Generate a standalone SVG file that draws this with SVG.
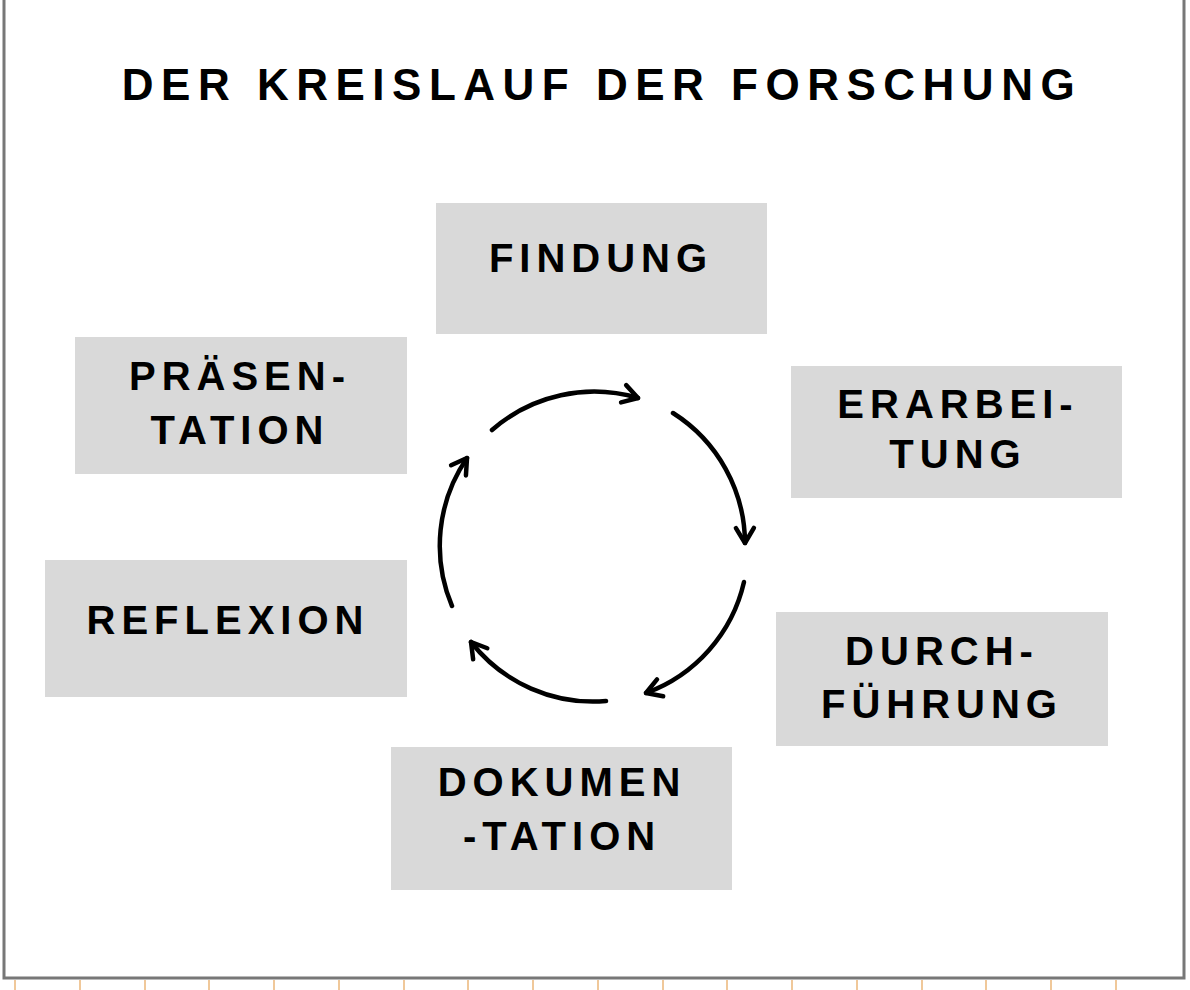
<svg xmlns="http://www.w3.org/2000/svg" width="1190" height="990" viewBox="0 0 1190 990">
<style>
.box{fill:#d9d9d9}
.t{font-family:"Liberation Sans",Arial,sans-serif;font-weight:bold;font-size:40px;fill:#000;letter-spacing:6px;text-anchor:middle}
.c{fill:none;stroke:#000;stroke-width:4.5;stroke-linecap:round}
.tick{stroke:#f0c89a;stroke-width:2}
</style>
<defs>
<marker id="a" viewBox="-20 -20 40 40" refX="0" refY="0" markerWidth="40" markerHeight="40" orient="auto" markerUnits="userSpaceOnUse">
<path d="M-15,-9 L0,0 L-15,9" fill="none" stroke="#000" stroke-width="4.5" stroke-linecap="round" stroke-linejoin="round"/>
</marker>
</defs>
<rect width="1190" height="990" fill="#fff"/>
<g id="frame">
<path d="M4,0 V978 H1184 V0" fill="none" stroke="#777" stroke-width="3"/>
<g class="tick">
<line x1="15" y1="980" x2="15" y2="990"/><line x1="80" y1="980" x2="80" y2="990"/><line x1="145" y1="980" x2="145" y2="990"/><line x1="209" y1="980" x2="209" y2="990"/><line x1="274" y1="980" x2="274" y2="990"/><line x1="339" y1="980" x2="339" y2="990"/><line x1="404" y1="980" x2="404" y2="990"/><line x1="468" y1="980" x2="468" y2="990"/><line x1="533" y1="980" x2="533" y2="990"/><line x1="598" y1="980" x2="598" y2="990"/><line x1="663" y1="980" x2="663" y2="990"/><line x1="727" y1="980" x2="727" y2="990"/><line x1="792" y1="980" x2="792" y2="990"/><line x1="857" y1="980" x2="857" y2="990"/><line x1="922" y1="980" x2="922" y2="990"/><line x1="986" y1="980" x2="986" y2="990"/><line x1="1051" y1="980" x2="1051" y2="990"/><line x1="1116" y1="980" x2="1116" y2="990"/>
</g>
</g>
<text class="t" x="602" y="100" style="font-size:44px;letter-spacing:7.5px">DER KREISLAUF DER FORSCHUNG</text>
<g id="findung"><rect class="box" x="436" y="203" width="331" height="131"/><text class="t" x="601" y="272">FINDUNG</text></g>
<g id="erarbeitung"><rect class="box" x="791" y="366" width="331" height="132"/><text class="t" x="958" y="418">ERARBEI-</text><text class="t" x="958" y="468">TUNG</text></g>
<g id="durchfuehrung"><rect class="box" x="776" y="612" width="332" height="134"/><text class="t" x="942" y="665">DURCH-</text><text class="t" x="942" y="718">FÜHRUNG</text></g>
<g id="dokumentation"><rect class="box" x="391" y="747" width="341" height="143"/><text class="t" x="562" y="796">DOKUMEN</text><text class="t" x="562" y="850">-TATION</text></g>
<g id="reflexion"><rect class="box" x="45" y="560" width="362" height="137"/><text class="t" x="228" y="634">REFLEXION</text></g>
<g id="praesentation"><rect class="box" x="75" y="337" width="332" height="137"/><text class="t" x="240" y="390">PRÄSEN-</text><text class="t" x="240" y="444">TATION</text></g>
<g id="connectors">
<path class="c" d="M492,430 A155,155 0 0 1 638,398" marker-end="url(#a)"/>
<path class="c" d="M673,413 A155,155 0 0 1 745,543" marker-end="url(#a)"/>
<path class="c" d="M744,582 A155,155 0 0 1 646,693" marker-end="url(#a)"/>
<path class="c" d="M606,701 A155,155 0 0 1 471,642" marker-end="url(#a)"/>
<path class="c" d="M452,606 A155,155 0 0 1 467,458" marker-end="url(#a)"/>
</g>
</svg>
